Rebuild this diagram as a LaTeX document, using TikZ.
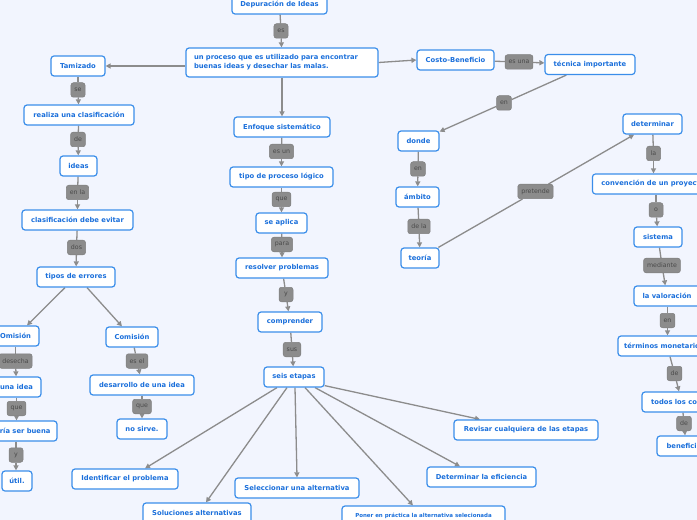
\documentclass[tikz,border=0pt]{standalone}
\usepackage{fontspec}
\setmainfont{DejaVu Sans}
\usetikzlibrary{arrows.meta}
\definecolor{bg}{HTML}{F2F5FE}
\definecolor{nodeborder}{HTML}{3B8EEA}
\definecolor{nodetext}{HTML}{1A6FDB}
\definecolor{lblfill}{HTML}{8C8C8C}
\definecolor{lbltext}{HTML}{4A4A4A}
\definecolor{linec}{HTML}{8C8C8C}
\pgfdeclarelayer{background}
\pgfsetlayers{background,main}
\tikzset{
 concept/.style={draw=nodeborder, fill=white, line width=1.2bp, rounded corners=3bp, text=nodetext,
   font=\fontsize{6.8}{9}\selectfont\bfseries, minimum height=20bp, inner xsep=5bp, inner ysep=2bp},
 smallconcept/.style={concept, font=\fontsize{5.5}{7}\selectfont\bfseries},
 lbl/.style={fill=lblfill, draw=lblfill!90!black, line width=0.5bp, rounded corners=2.5bp, text=lbltext,
   font=\fontsize{6.3}{7}\selectfont, minimum height=14.5bp, minimum width=14bp, inner xsep=3.5bp, inner ysep=0bp},
 conn/.style={draw=linec, line width=1.3bp},
 arr/.style={conn, -{Triangle[length=5bp,width=5bp]}},
}
\begin{document}
\begin{tikzpicture}[x=1bp,y=-1bp]
\useasboundingbox (0,0) rectangle (697,520);
\clip (0,0) rectangle (697,520);
% main column
\node[concept, minimum width=95bp] (dep) at (279.5,4) {Depuración de Ideas};
\node[lbl] (l1) at (281,31) {es};
\node[concept, minimum width=192bp, minimum height=29bp, text width=176bp, inner xsep=8bp, align=left] (main) at (282,62.5)
  {un proceso que es utilizado para encontrar\\buenas ideas y desechar las malas.};
% left branch
\node[concept, minimum width=54bp] (tam) at (78,66) {Tamizado};
\node[lbl] (lse) at (78,90) {se};
\node[concept, minimum width=110bp] (realiza) at (79,115) {realiza una clasificación};
\node[lbl] (lde) at (78,139.5) {de};
\node[concept, minimum width=37bp] (ideas) at (78.5,166) {ideas};
\node[lbl] (lenla) at (77.5,192.5) {en la};
\node[concept, minimum width=111bp] (clasif) at (77.5,220) {clasificación debe evitar};
\node[lbl] (ldos) at (76.5,247.5) {dos};
\node[concept, minimum width=78bp] (tipos) at (76,277) {tipos de errores};
\node[concept, minimum width=47bp] (omi) at (15.5,336) {Omisión};
\node[lbl] (ldesecha) at (15.5,361) {desecha};
\node[concept, minimum width=49bp] (unaidea) at (16.5,387) {una idea};
\node[lbl] (lque1) at (16.5,408.5) {que};
\node[concept, minimum width=78bp] (podria) at (18,431) {podría ser buena};
\node[lbl] (ly1) at (16,455) {y};
\node[concept, minimum width=30bp] (util) at (17,481) {útil.};
\node[concept, minimum width=52bp] (comi) at (132,337) {Comisión};
\node[lbl] (lesel) at (137,361) {es el};
\node[concept, minimum width=104bp] (desar) at (142,385) {desarrollo de una idea};
\node[lbl] (lque2) at (142,406.5) {que};
\node[concept, minimum width=50bp] (nosirve) at (142,429) {no sirve.};
% center branch
\node[concept, minimum width=96bp] (enfoque) at (282,127) {Enfoque sistemático};
\node[lbl] (lesun) at (281.5,151.5) {es un};
\node[concept, minimum width=103bp] (tipo) at (281.5,177) {tipo de proceso lógico};
\node[lbl] (lque3) at (281.5,199.5) {que};
\node[concept, minimum width=51bp] (seaplica) at (281.5,223) {se aplica};
\node[lbl] (lpara) at (282,244.5) {para};
\node[concept, minimum width=92bp] (resolver) at (282,268) {resolver problemas};
\node[lbl] (ly2) at (286,294.5) {y};
\node[concept, minimum width=64bp] (compr) at (290,322) {comprender};
\node[lbl] (lsus) at (292,349.5) {sus};
\node[concept, minimum width=60bp] (seis) at (294,377) {seis etapas};
\node[concept, minimum width=106bp] (ident) at (125,479) {Identificar el problema};
\node[concept, minimum width=108bp] (soluc) at (197,513) {Soluciones alternativas};
\node[concept, minimum width=124bp] (selec) at (297,488) {Seleccionar una alternativa};
\node[smallconcept, minimum width=163bp] (poner) at (423.5,516) {Poner en práctica la alternativa selecionada};
\node[concept, minimum width=109bp] (deter) at (481.5,477) {Determinar la eficiencia};
\node[concept, minimum width=144bp] (revis) at (526,430) {Revisar cualquiera de las etapas};
% right branch
\node[concept, minimum width=77bp] (costo) at (455.5,60) {Costo-Beneficio};
\node[lbl] (lesuna) at (519,62) {es una};
\node[concept, minimum width=90bp] (tecnica) at (590,64.5) {técnica importante};
\node[lbl] (len1) at (504,103) {en};
\node[concept, minimum width=41bp] (donde) at (418.5,141) {donde};
\node[lbl] (len2) at (418,169) {en};
\node[concept, minimum width=43bp] (ambito) at (417.5,197) {ámbito};
\node[lbl] (ldela) at (419,226.5) {de la};
\node[concept, minimum width=38bp] (teoria) at (420,258) {teoría};
\node[lbl] (lpret) at (535.5,191.5) {pretende};
\node[concept, minimum width=59bp] (determ) at (652.5,124) {determinar};
\node[lbl] (lla) at (653.5,153.5) {la};
\node[concept, minimum width=120bp, inner xsep=9bp] (conv) at (653,184) {convención de un proyecto};
\node[lbl] (lo) at (656,210) {o};
\node[concept, minimum width=48bp] (sistema) at (658,237) {sistema};
\node[lbl] (lmed) at (662,265.5) {mediante};
\node[concept, minimum width=66bp] (valor) at (667,296) {la valoración};
\node[lbl] (len3) at (667.5,320.5) {en};
\node[concept, minimum width=92bp] (termin) at (664,346) {términos monetarios};
\node[lbl] (lde2) at (674.5,373.5) {de};
\node[concept, minimum width=80bp] (todos) at (682,402) {todos los costos};
\node[lbl] (lde3) at (684,423.5) {de};
\node[concept, minimum width=58bp] (benef) at (686,446) {beneficios};

\begin{pgfonlayer}{background}
\fill[bg] (0,0) rectangle (697,520);
\draw[conn] (dep) -- (l1); \draw[arr] (l1) -- (main);
\draw[arr] (main.west |- tam) -- (tam.east);
\draw[conn] (tam) -- (lse); \draw[arr] (lse) -- (realiza);
\draw[conn] (realiza) -- (lde); \draw[arr] (lde) -- (ideas);
\draw[conn] (ideas) -- (lenla); \draw[arr] (lenla) -- (clasif);
\draw[conn] (clasif) -- (ldos); \draw[arr] (ldos) -- (tipos);
\draw[arr] ([xshift=-11bp]tipos.south) -- ([xshift=11.5bp]omi.north);
\draw[arr] ([xshift=11bp]tipos.south) -- ([xshift=-10bp]comi.north);
\draw[conn] (omi) -- (ldesecha); \draw[arr] (ldesecha) -- (unaidea);
\draw[conn] (unaidea) -- (lque1); \draw[arr] (lque1) -- (lque1 |- podria.north);
\draw[conn] (podria.south -| ly1) -- (ly1); \draw[arr] (ly1) -- (ly1 |- util.north);
\draw[conn] (comi) -- (lesel); \draw[arr] (lesel) -- (desar);
\draw[conn] (desar) -- (lque2); \draw[arr] (lque2) -- (nosirve);
\draw[arr] (main) -- (enfoque);
\draw[conn] (enfoque) -- (lesun); \draw[arr] (lesun) -- (tipo);
\draw[conn] (tipo) -- (lque3); \draw[arr] (lque3) -- (seaplica);
\draw[conn] (seaplica) -- (lpara); \draw[arr] (lpara) -- (resolver);
\draw[conn] (resolver) -- (ly2); \draw[arr] (ly2) -- (compr);
\draw[conn] (compr) -- (lsus); \draw[arr] (lsus) -- (seis);
\draw[arr] ([xshift=-17bp]seis.south) -- ([xshift=20bp]ident.north);
\draw[arr] ([xshift=-7bp]seis.south) -- ([xshift=9bp]soluc.north);
\draw[arr] ([xshift=1bp]seis.south) -- (selec.north);
\draw[arr] ([xshift=11bp]seis.south) -- ([xshift=-10.5bp]poner.north);
\draw[arr] ([xshift=21bp]seis.south) -- ([xshift=-21.5bp]deter.north);
\draw[arr] ([yshift=2bp]seis.south east) -- ([xshift=-46bp]revis.north);
\draw[arr] (main.east) -- (costo.west);
\draw[conn] (costo) -- (lesuna); \draw[arr] (lesuna) -- (tecnica);
\draw[conn] (tecnica) -- (len1); \draw[arr] (len1) -- (donde);
\draw[conn] (donde) -- (len2); \draw[arr] (len2) -- (ambito);
\draw[conn] (ambito) -- (ldela); \draw[arr] (ldela) -- (teoria);
\draw[conn] (teoria) -- (lpret); \draw[arr] (lpret) -- (determ);
\draw[conn] (determ) -- (lla); \draw[arr] (lla) -- (lla |- conv.north);
\draw[conn] (conv.south -| lo) -- (lo); \draw[arr] (lo) -- (sistema);
\draw[conn] (sistema) -- (lmed); \draw[arr] (lmed) -- (valor);
\draw[conn] (valor.south -| len3) -- (len3); \draw[arr] (len3) -- (len3 |- termin.north);
\draw[conn] ([xshift=6bp]termin.south) -- (lde2); \draw[arr] (lde2) -- ([xshift=-3bp]todos.north);
\draw[conn] (todos) -- (lde3); \draw[arr] (lde3) -- (benef);
\end{pgfonlayer}
\end{tikzpicture}
\end{document}
